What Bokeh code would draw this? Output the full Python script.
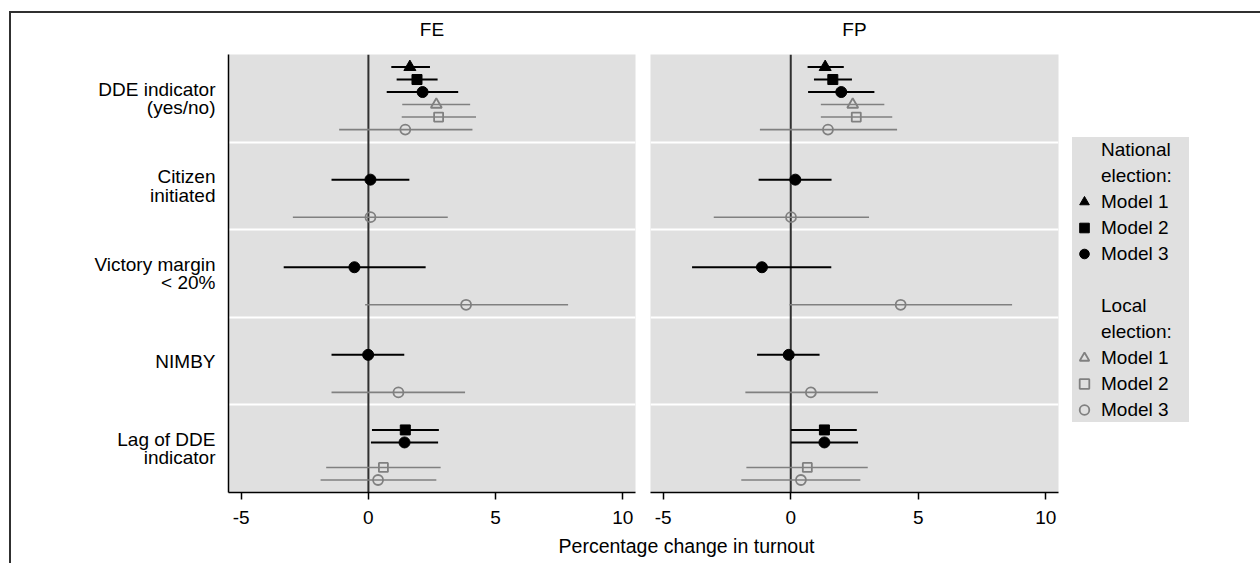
import math
from bokeh.plotting import figure
from bokeh.layouts import row, column
from bokeh.models import (Range1d, FixedTicker, Span, Legend, LegendItem, Label,
                          ColumnDataSource)
from bokeh.embed import file_html
from bokeh.resources import INLINE

nan = float("nan")

# ---------------- data ----------------
categories = ["DDE indicator\n(yes/no)", "Citizen\ninitiated", "Victory margin\n< 20%",
              "NIMBY", "Lag of DDE\nindicator"]
panel_titles = ["FE", "FP"]
x_ticks = [-5, 0, 5, 10]
x_title = "Percentage change in turnout"
model_names = ["Model 1", "Model 2", "Model 3"]

# FE panel: estimate, lower, upper  (per category)
fe_nat1_est = [1.63, nan, nan, nan, nan]
fe_nat1_lo = [0.90, nan, nan, nan, nan]
fe_nat1_hi = [2.42, nan, nan, nan, nan]
fe_nat2_est = [1.91, nan, nan, nan, 1.45]
fe_nat2_lo = [1.11, nan, nan, nan, 0.14]
fe_nat2_hi = [2.72, nan, nan, nan, 2.77]
fe_nat3_est = [2.13, 0.08, -0.55, -0.01, 1.42]
fe_nat3_lo = [0.72, -1.45, -3.33, -1.45, 0.10]
fe_nat3_hi = [3.53, 1.61, 2.25, 1.41, 2.74]
fe_loc1_est = [2.67, nan, nan, nan, nan]
fe_loc1_lo = [1.33, nan, nan, nan, nan]
fe_loc1_hi = [4.00, nan, nan, nan, nan]
fe_loc2_est = [2.76, nan, nan, nan, 0.59]
fe_loc2_lo = [1.31, nan, nan, nan, -1.66]
fe_loc2_hi = [4.23, nan, nan, nan, 2.84]
fe_loc3_est = [1.45, 0.08, 3.84, 1.18, 0.38]
fe_loc3_lo = [-1.15, -2.97, -0.13, -1.45, -1.88]
fe_loc3_hi = [4.09, 3.12, 7.85, 3.80, 2.67]

# FP panel
fp_nat1_est = [1.35, nan, nan, nan, nan]
fp_nat1_lo = [0.66, nan, nan, nan, nan]
fp_nat1_hi = [2.08, nan, nan, nan, nan]
fp_nat2_est = [1.65, nan, nan, nan, 1.32]
fp_nat2_lo = [0.91, nan, nan, nan, 0.01]
fp_nat2_hi = [2.40, nan, nan, nan, 2.59]
fp_nat3_est = [1.98, 0.18, -1.13, -0.08, 1.32]
fp_nat3_lo = [0.68, -1.26, -3.87, -1.32, 0.01]
fp_nat3_hi = [3.28, 1.60, 1.59, 1.13, 2.64]
fp_loc1_est = [2.43, nan, nan, nan, nan]
fp_loc1_lo = [1.18, nan, nan, nan, nan]
fp_loc1_hi = [3.67, nan, nan, nan, nan]
fp_loc2_est = [2.57, nan, nan, nan, 0.65]
fp_loc2_lo = [1.18, nan, nan, nan, -1.74]
fp_loc2_hi = [3.98, nan, nan, nan, 3.02]
fp_loc3_est = [1.46, 0.01, 4.31, 0.79, 0.40]
fp_loc3_lo = [-1.21, -3.02, -0.05, -1.78, -1.94]
fp_loc3_hi = [4.17, 3.07, 8.68, 3.42, 2.73]

fe_series = [(fe_nat1_est, fe_nat1_lo, fe_nat1_hi), (fe_nat2_est, fe_nat2_lo, fe_nat2_hi),
             (fe_nat3_est, fe_nat3_lo, fe_nat3_hi), (fe_loc1_est, fe_loc1_lo, fe_loc1_hi),
             (fe_loc2_est, fe_loc2_lo, fe_loc2_hi), (fe_loc3_est, fe_loc3_lo, fe_loc3_hi)]
fp_series = [(fp_nat1_est, fp_nat1_lo, fp_nat1_hi), (fp_nat2_est, fp_nat2_lo, fp_nat2_hi),
             (fp_nat3_est, fp_nat3_lo, fp_nat3_hi), (fp_loc1_est, fp_loc1_lo, fp_loc1_hi),
             (fp_loc2_est, fp_loc2_lo, fp_loc2_hi), (fp_loc3_est, fp_loc3_lo, fp_loc3_hi)]

# ---------------- style ----------------
FONT = "Liberation Sans"
FS = "19px"
BG = "#e0e0e0"
GRAY = "#808080"
styles = [
    dict(marker="triangle", size=12, fill_color="black", line_color="black", line_width=1, bar=2.0, bar_color="black"),
    dict(marker="square", size=10, fill_color="black", line_color="black", line_width=1, bar=2.0, bar_color="black"),
    dict(marker="circle", size=11, fill_color="black", line_color="black", line_width=1, bar=2.0, bar_color="black"),
    dict(marker="triangle", size=11, fill_color=None, line_color=GRAY, line_width=1.8, bar=1.6, bar_color=GRAY),
    dict(marker="square", size=9, fill_color=None, line_color=GRAY, line_width=1.8, bar=1.6, bar_color=GRAY),
    dict(marker="circle", size=10, fill_color=None, line_color=GRAY, line_width=1.8, bar=1.6, bar_color=GRAY),
]
N_SLOTS = 7.0


def make_panel(title, series, first):
    p = figure(frame_width=407 if first else 408, frame_height=438,
               x_range=Range1d(-5.5, 10.5), y_range=Range1d(4.5, -0.5),
               output_backend="svg", toolbar_location=None, title=title,
               min_border_left=217 if first else 8, min_border_right=7 if first else 194,
               min_border_top=54, min_border_bottom=42)
    p.background_fill_color = BG
    p.border_fill_color = "white"
    p.border_fill_alpha = 0
    p.outline_line_color = None
    p.title.text_font = FONT
    p.title.text_font_size = FS
    p.title.text_font_style = "normal"
    p.title.text_color = "black"
    p.title.align = "center"
    p.title.standoff = 29

    p.xgrid.grid_line_color = None
    p.ygrid.ticker = FixedTicker(ticks=[0.5, 1.5, 2.5, 3.5])
    p.ygrid.grid_line_color = "white"
    p.ygrid.grid_line_width = 2

    xa = p.xaxis[0]
    xa.ticker = FixedTicker(ticks=x_ticks)
    xa.major_label_overrides = {t: str(t) for t in x_ticks}
    xa.axis_line_color = "black"
    xa.axis_line_width = 1.5
    xa.major_tick_line_color = "black"
    xa.major_tick_line_width = 1.5
    xa.major_tick_in = 0
    xa.major_tick_out = 7
    xa.minor_tick_line_color = None
    xa.major_label_text_font = FONT
    xa.major_label_text_font_size = FS
    xa.major_label_text_color = "black"
    xa.major_label_standoff = 11

    ya = p.yaxis[0]
    if first:
        ya.ticker = FixedTicker(ticks=list(range(len(categories))))
        ya.major_label_overrides = {i: c for i, c in enumerate(categories)}
        ya.axis_line_color = "black"
        ya.axis_line_width = 1.5
        ya.major_tick_line_color = None
        ya.minor_tick_line_color = None
        ya.major_tick_in = 0
        ya.major_tick_out = 0
        ya.major_label_text_font = FONT
        ya.major_label_text_font_size = FS
        ya.major_label_text_color = "black"
        ya.major_label_text_line_height = 0.88
        ya.major_label_standoff = 13
    else:
        ya.visible = False

    p.add_layout(Span(location=0, dimension="height", line_color="#303030",
                      line_width=2, level="underlay"))

    rends = []
    for k, (est, lo, hi) in enumerate(series):
        st = styles[k]
        ys, xs, ls, hs = [], [], [], []
        for i in range(len(categories)):
            if not math.isnan(est[i]):
                ys.append(i + (k - 2.5) / N_SLOTS)
                xs.append(est[i]); ls.append(lo[i]); hs.append(hi[i])
        src = ColumnDataSource(dict(y=ys, est=xs, lo=ls, hi=hs))
        p.segment(x0="lo", x1="hi", y0="y", y1="y", source=src,
                  line_color=st["bar_color"], line_width=st["bar"])
        r = p.scatter(x="est", y="y", source=src, marker=st["marker"], size=st["size"],
                      fill_color=st["fill_color"], line_color=st["line_color"],
                      line_width=st["line_width"])
        rends.append(r)
    return p, rends


pA, _ = make_panel(panel_titles[0], fe_series, True)
pB, rB = make_panel(panel_titles[1], fp_series, False)

blank = pB.scatter(x=[nan], y=[nan], size=1, alpha=0)
items = [
    LegendItem(label="National", renderers=[blank]),
    LegendItem(label="election:", renderers=[blank]),
    LegendItem(label=model_names[0], renderers=[rB[0]]),
    LegendItem(label=model_names[1], renderers=[rB[1]]),
    LegendItem(label=model_names[2], renderers=[rB[2]]),
    LegendItem(label=" ", renderers=[blank]),
    LegendItem(label="Local", renderers=[blank]),
    LegendItem(label="election:", renderers=[blank]),
    LegendItem(label=model_names[0], renderers=[rB[3]]),
    LegendItem(label=model_names[1], renderers=[rB[4]]),
    LegendItem(label=model_names[2], renderers=[rB[5]]),
]
legend = Legend(items=items, location=(14, 70), margin=0, padding=4,
                spacing=1, glyph_width=24, glyph_height=25, label_height=25,
                label_width=88, label_standoff=5, background_fill_color=BG,
                background_fill_alpha=1, border_line_color=None, label_text_font=FONT,
                label_text_font_size=FS, label_text_color="black")
pB.add_layout(legend, "right")

pC = figure(width=1241, height=29, x_range=Range1d(0, 1), y_range=Range1d(0, 1),
            output_backend="svg", toolbar_location=None, x_axis_type=None, y_axis_type=None,
            min_border_left=0, min_border_right=0, min_border_top=0, min_border_bottom=0)
pC.outline_line_color = None
pC.grid.grid_line_color = None
pC.border_fill_alpha = 0
pC.background_fill_alpha = 0
pC.add_layout(Label(x=675, y=18, x_units="screen", y_units="screen", text=x_title,
                    text_font=FONT, text_font_size="19.5px", text_color="black",
                    text_align="center", text_baseline="middle"))

panels = row(pA, pB, margin=(-13, 0, 0, 0))
layout = column(panels, pC, margin=(11, 0, 0, 9),
                styles={"border-top": "2px solid #303030", "border-left": "2px solid #303030"})

open("out.html", "w").write(file_html(layout, INLINE))
